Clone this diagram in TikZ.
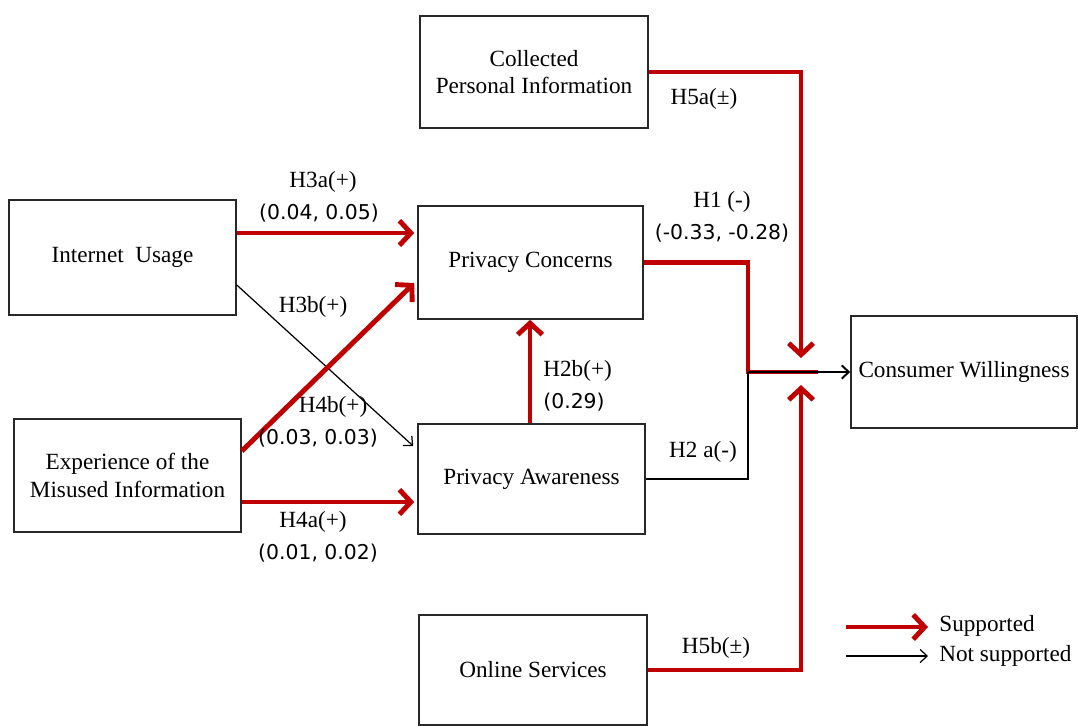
\documentclass[tikz,border=0pt]{standalone}
\usepackage{fontspec}
\setmainfont{Liberation Serif}
\newfontfamily\numfont{DejaVu Sans}
\usetikzlibrary{arrows.meta}
\definecolor{supred}{RGB}{192,0,0}
\definecolor{boxgray}{RGB}{40,40,40}
\tikzset{
  box/.style={draw=boxgray, line width=0.9pt, fill=white, align=center, inner sep=0pt,
              font=\fontsize{13.2}{15.5}\selectfont},
  sup/.style={draw=supred, line width=2.8pt, -{Straight Barb[length=6.5pt,width=14pt]}},
  supline/.style={draw=supred, line width=2.8pt},
  nsup/.style={draw=black, line width=0.7pt, -{Straight Barb[length=4pt,width=7.5pt]}},
  nsupline/.style={draw=black, line width=0.7pt},
  lab/.style={font=\fontsize{13.2}{15}\selectfont, inner sep=0pt},
  num/.style={font=\numfont\fontsize{11.6}{13}\selectfont, inner sep=0pt},
}
\begin{document}
\begin{tikzpicture}[x=0.02cm, y=-0.02cm]
\useasboundingbox (0,0) rectangle (1078,725);
% boxes
\node[box, minimum width=228*0.02cm, minimum height=112*0.02cm] (coll) at (534,72) {Collected\\Personal Information};
\node[box, minimum width=227*0.02cm, minimum height=115*0.02cm] (inet) at (122.5,257.5) {Internet\ \ Usage};
\node[box, minimum width=225*0.02cm, minimum height=113*0.02cm] (pc) at (530.5,262.5) {Privacy Concerns};
\node[box, minimum width=227*0.02cm, minimum height=113*0.02cm] (exp) at (127.5,475.5) {Experience of the\\Misused Information};
\node[box, minimum width=227*0.02cm, minimum height=110*0.02cm] (pa) at (531.5,479) {Privacy Awareness};
\node[box, minimum width=226*0.02cm, minimum height=112*0.02cm] (cw) at (964,372) {Consumer Willingness};
\node[box, minimum width=228*0.02cm, minimum height=110*0.02cm] (os) at (533,670) {Online Services};

% junction coordinates
\coordinate (jtop) at (801,358);
\coordinate (jbot) at (801,385);
\coordinate (mid) at (748,372);
\coordinate (jr) at (818,372);

% H5a, H5b
\draw[sup] (coll.east) -| (jtop);
\draw[sup] (os.east) -| (jbot);
% H1
\draw[supline] (pc.east) -| (mid) -- (jr);
% H2a
\draw[nsupline] (pa.east) -| (mid);
\draw[nsup, line width=1.1pt] (mid) -- (cw.west);

% H3a
\draw[sup] (inet.east |- 0,233) -- ([xshift=-0.06cm]pc.west |- 0,233);
% H3b
\draw[nsup] (inet.east |- 0,285) -- ([xshift=-0.08cm]pa.west |- 0,446);
% H4b
\draw[sup] (exp.east |- 0,451) -- ([xshift=-0.06cm]pc.west |- 0,283);
% H4a
\draw[sup] (exp.east |- 0,502) -- ([xshift=-0.06cm]pa.west |- 0,502);
% H2b
\draw[sup] (pa.north -| 530,0) -- (pc.south -| 530,0);

% labels
\node[lab] (l3a) at (323,182) {H3a(+)};
\node[num] (n3a) at (319,213) {(0.04, 0.05)};
\node[lab] (l3b) at (313,307) {H3b(+)};
\node[lab] (l4b) at (333,407) {H4b(+)};
\node[num] (n4b) at (318,438) {(0.03, 0.03)};
\node[lab] (l4a) at (313,522) {H4a(+)};
\node[num] (n4a) at (318,553) {(0.01, 0.02)};
\node[lab] (l1) at (722,202) {H1 (-)};
\node[num] (n1) at (722,233) {(-0.33, -0.28)};
\node[lab, anchor=west] (l2b) at (543,371) {H2b(+)};
\node[num, anchor=west] (n2b) at (543,402) {(0.29)};
\node[lab] (l2a) at (703,452) {H2 a(-)};
\node[lab] (l5a) at (704,99) {H5a(±)};
\node[lab] (l5b) at (716,648) {H5b(±)};

% legend
\coordinate (ls1) at (846,627);
\coordinate (le1) at (928,627);
\coordinate (ls2) at (846,656);
\coordinate (le2) at (928,656);
\draw[sup] (ls1) -- (le1);
\draw[nsup] (ls2) -- (le2);
\node[lab, anchor=west] (lg1) at (939,626) {Supported};
\node[lab, anchor=west] (lg2) at (939,656) {Not supported};
\end{tikzpicture}
\end{document}
